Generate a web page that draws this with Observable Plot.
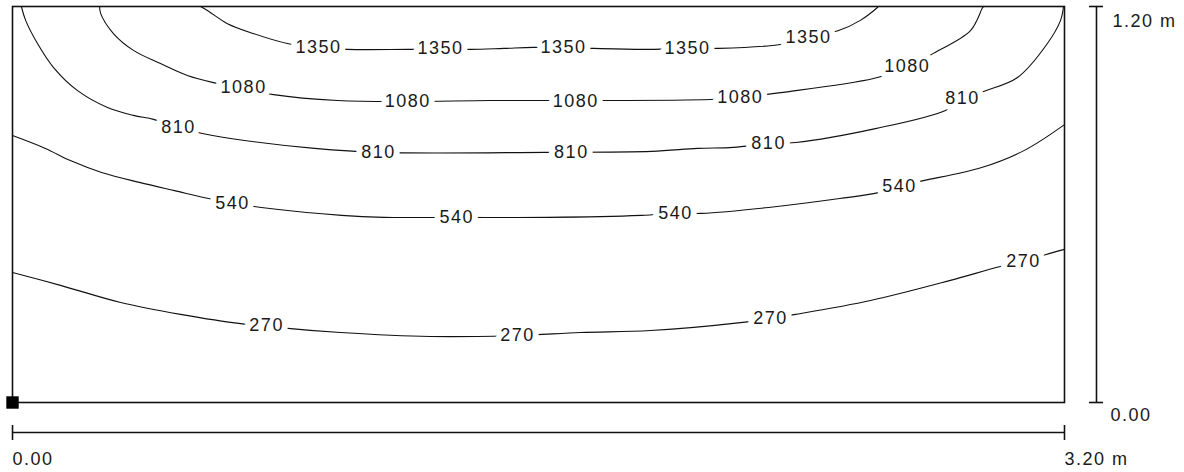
<!DOCTYPE html>
<html>
<head>
<meta charset="utf-8">
<script src="https://cdn.jsdelivr.net/npm/d3@7"></script>
<script src="https://cdn.jsdelivr.net/npm/@observablehq/plot@0.6"></script>
<style>
  html, body { margin: 0; padding: 0; background: #fff; }
  #chart svg { display: block; }
</style>
</head>
<body>
<div id="chart"></div>
<script>
// Contour levels
const levels = [270, 540, 810, 1080, 1350];

// Contour polylines (metres)
const x1350 = [0.572,0.593,0.654,0.733,0.836,0.931,1.019,1.205,1.302,1.393,1.494,1.585,1.676,1.767,1.919,2.053,2.144,2.336,2.421,2.513,2.579,2.631,2.634];
const y1350 = [1.200,1.188,1.148,1.118,1.088,1.076,1.070,1.070,1.070,1.070,1.073,1.076,1.076,1.073,1.070,1.073,1.073,1.085,1.106,1.127,1.158,1.197,1.200];

const x1080 = [0.265,0.268,0.307,0.368,0.450,0.532,0.608,0.703,0.794,0.989,1.202,1.454,1.713,2.123,2.214,2.336,2.619,2.722,2.801,2.914,2.951,2.954];
const y1080 = [1.200,1.179,1.118,1.067,1.027,0.991,0.970,0.952,0.933,0.915,0.912,0.915,0.915,0.918,0.924,0.939,0.982,1.015,1.058,1.127,1.197,1.200];

const x810 = [0.027,0.040,0.076,0.125,0.198,0.289,0.368,0.429,0.505,0.578,0.706,0.919,1.113,1.621,1.944,2.084,2.193,2.300,2.382,2.625,2.838,2.890,2.960,3.057,3.148,3.188,3.197];
const y810 = [1.200,1.158,1.088,1.015,0.945,0.894,0.870,0.858,0.833,0.815,0.794,0.770,0.758,0.758,0.761,0.770,0.773,0.785,0.788,0.830,0.885,0.921,0.945,0.985,1.088,1.158,1.200];

const x540 = [0.000,0.100,0.176,0.271,0.386,0.493,0.611,0.675,0.757,1.001,1.129,1.351,1.630,1.913,2.020,2.096,2.300,2.516,2.634,2.704,2.774,2.948,3.078,3.200];
const y540 = [0.809,0.770,0.733,0.697,0.667,0.642,0.615,0.603,0.591,0.567,0.561,0.561,0.561,0.567,0.573,0.573,0.591,0.618,0.636,0.658,0.673,0.712,0.764,0.842];

const x270 = [0.000,0.146,0.329,0.511,0.694,0.770,0.846,0.998,1.271,1.536,1.728,1.941,2.214,2.306,2.382,2.610,2.853,3.005,3.075,3.142,3.200];
const y270 = [0.394,0.355,0.303,0.267,0.239,0.233,0.224,0.212,0.200,0.203,0.212,0.218,0.242,0.255,0.267,0.309,0.370,0.412,0.427,0.448,0.464];

// Label positions (metres)
const lab1350x = [0.931,1.302,1.676,2.053,2.421];
const lab1350y = [1.076,1.073,1.076,1.073,1.106];
const lab1080x = [0.703,1.202,1.713,2.214,2.722];
const lab1080y = [0.955,0.912,0.912,0.924,1.018];
const lab810x  = [0.505,1.113,1.700,2.300,2.890];
const lab810y  = [0.833,0.758,0.758,0.785,0.921];
const lab540x  = [0.669,1.351,2.017,2.698];
const lab540y  = [0.603,0.561,0.573,0.655];
const lab270x  = [0.773,1.536,2.306,3.075];
const lab270y  = [0.233,0.203,0.255,0.427];

// Scale bars
const xScaleTicks  = [0, 3.2];
const xScaleLabels = ["0.00", "3.20 m"];
const yScaleTicks  = [0, 1.2];
const yScaleLabels = ["0.00", "1.20 m"];

// Build tables
const lineSrc = {270:[x270,y270], 540:[x540,y540], 810:[x810,y810], 1080:[x1080,y1080], 1350:[x1350,y1350]};
const labSrc  = {270:[lab270x,lab270y], 540:[lab540x,lab540y], 810:[lab810x,lab810y], 1080:[lab1080x,lab1080y], 1350:[lab1350x,lab1350y]};
const lines = [], labels = [];
for (const lv of levels) {
  const [xs, ys] = lineSrc[lv];
  xs.forEach((x, i) => lines.push({level: lv, x, y: ys[i]}));
  const [lx, ly] = labSrc[lv];
  lx.forEach((x, i) => labels.push({level: lv, x, y: ly[i]}));
}
const xMin = xScaleTicks[0], xMax = xScaleTicks[1];
const yMin = yScaleTicks[0], yMax = yScaleTicks[1];
const xBar = xScaleTicks.map((v, i) => ({v, label: xScaleLabels[i]}));
const yBar = yScaleTicks.map((v, i) => ({v, label: yScaleLabels[i]}));

const font = "'Liberation Sans', Arial, sans-serif";

const chart = Plot.plot({
  width: 1184,
  height: 472,
  marginLeft: 12,
  marginRight: 120,
  marginTop: 6,
  marginBottom: 70,
  x: {domain: [xMin, xMax], axis: null},
  y: {domain: [yMin, yMax], axis: null},
  style: {fontFamily: font, fontSize: "18px", letterSpacing: "1.5px", background: "#fff", color: "#111"},
  marks: [
    Plot.line(lines, {x: "x", y: "y", z: "level", stroke: "#111", strokeWidth: 1.1, curve: "catmull-rom"}),
    Plot.text(labels, {x: "x", y: "y", text: d => String(d.level), fill: "#1a1a1a", stroke: "#fff", strokeWidth: 12, paintOrder: "stroke", fontSize: 18}),
    Plot.frame({stroke: "#111", strokeWidth: 1.6}),
    // vertical scale bar
    Plot.ruleX([xMax], {y1: () => yMin, y2: () => yMax, dx: 32, stroke: "#111", strokeWidth: 1.6}),
    Plot.ruleY(yBar, {y: "v", x1: () => xMax, x2: () => xMax, dx: 32, insetLeft: -7, insetRight: -7, stroke: "#111", strokeWidth: 1.6}),
    Plot.text(yBar, {x: () => xMax, y: "v", text: "label", textAnchor: "start", dx: 46, dy: d => 0, fill: "#1a1a1a", fontSize: 18, filter: d => d.v === yMin, dy: 13}),
    Plot.text(yBar, {x: () => xMax, y: "v", text: "label", textAnchor: "start", dx: 48, fill: "#1a1a1a", fontSize: 18, filter: d => d.v === yMax, dy: 15}),
    // horizontal scale bar
    Plot.ruleY([yMin], {x1: () => xMin, x2: () => xMax, dy: 30, stroke: "#111", strokeWidth: 1.6}),
    Plot.ruleX(xBar, {x: "v", y1: () => yMin, y2: () => yMin, dy: 30, insetTop: -7, insetBottom: -8, stroke: "#111", strokeWidth: 1.6}),
    Plot.text(xBar, {x: "v", y: () => yMin, text: "label", textAnchor: "start", dy: 57, fill: "#1a1a1a", fontSize: 18}),
    // origin marker
    Plot.dot([{x: xMin, y: yMin}], {x: "x", y: "y", symbol: "square", r: 7, fill: "#000", stroke: "none"})
  ]
});
document.getElementById("chart").appendChild(chart);
</script>
</body>
</html>
